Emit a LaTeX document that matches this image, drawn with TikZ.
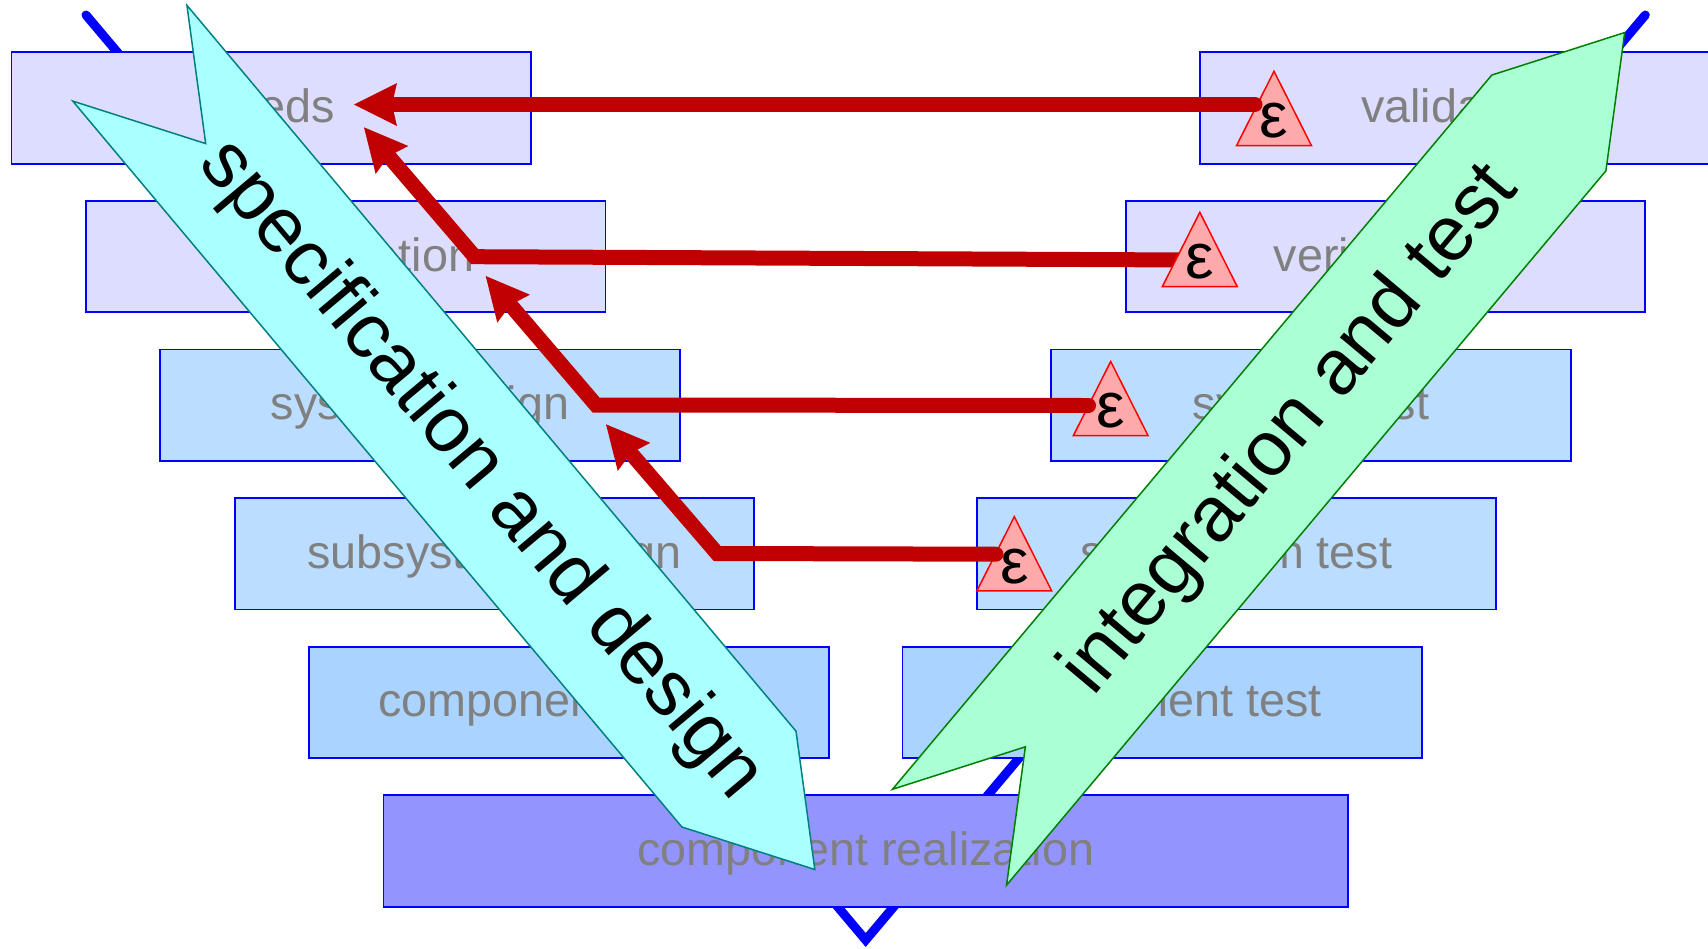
\documentclass[tikz,border=0pt]{standalone}
\usepackage{fontspec}
\setmainfont{Liberation Sans}
\usetikzlibrary{arrows.meta}
\definecolor{boxA}{HTML}{DDDDFF}
\definecolor{boxB}{HTML}{BBDDFF}
\definecolor{boxC}{HTML}{AAD4FF}
\definecolor{boxD}{HTML}{9494FF}
\definecolor{txtgray}{HTML}{808080}
\definecolor{specfill}{HTML}{AAFFFF}
\definecolor{specdraw}{HTML}{008080}
\definecolor{intfill}{HTML}{AAFFD4}
\definecolor{intdraw}{HTML}{008000}
\definecolor{redline}{HTML}{C00000}
\definecolor{trifill}{HTML}{FFAAAA}
\definecolor{tridraw}{HTML}{FF0000}
\begin{document}
\begin{tikzpicture}[x=1pt,y=-1pt,
  phase/.style={draw=blue, line width=1.8pt, inner sep=0pt,
    minimum width=519.5pt, minimum height=111.4pt,
    text height=34pt, text depth=5pt, text=txtgray,
    font=\fontsize{46.7}{56}\selectfont},
  vline/.style={draw=blue, line width=9pt, line cap=round, line join=miter},
  specarrow/.style={fill=specfill, draw=specdraw, line width=1.5pt, line join=miter},
  intarrow/.style={fill=intfill, draw=intdraw, line width=1.5pt, line join=miter},
  bigtxt/.style={inner sep=0pt, text=black, font=\fontsize{78}{88}\selectfont},
  redarrow/.style={draw=redline, line width=15pt, line cap=round, line join=miter,
    -{Stealth[length=43pt, width=43pt, inset=5pt, line width=0pt]}},
  tri/.style={fill=trifill, draw=tridraw, line width=1.5pt, line join=miter},
  eps/.style={inner sep=0pt, text=black, font=\fontsize{64}{70}\selectfont}
]
\useasboundingbox (0,0) rectangle (1708,948);

% V line
\coordinate (vl) at (86,15);
\coordinate (vb) at (865.7,940);
\coordinate (vr) at (1645.3,15);
\draw[vline] (vl) -- (vb) -- (vr);

% left column
\node[phase, fill=boxA] (l1) at (271.25,108) {needs};
\node[phase, fill=boxA] (l2) at (345.65,256.6) {specification};
\node[phase, fill=boxB] (l3) at (420.05,405.2) {system design};
\node[phase, fill=boxB] (l4) at (494.45,553.8) {subsystem design};
\node[phase, fill=boxC] (l5) at (568.85,702.4) {component design};
% right column
\node[phase, fill=boxA] (r1) at (1459.75,108) {validation};
\node[phase, fill=boxA] (r2) at (1385.35,256.6) {verification};
\node[phase, fill=boxB] (r3) at (1310.95,405.2) {system test};
\node[phase, fill=boxB] (r4) at (1236.55,553.8) {subsystem test};
\node[phase, fill=boxC] (r5) at (1162.15,702.4) {component test};
% bottom
\node[phase, fill=boxD, minimum width=964.6pt] (bt) at (865.7,851) {component realization};

% specification and design arrow
\begin{scope}[shift={(129.85,53.2)}, rotate=-50]
  \draw[specarrow] (0,74.5) -- (118,0) -- (0,-74.5) -- (947.6,-74.5) -- (1065.6,0) -- (947.6,74.5) -- cycle;
  \node[bigtxt, rotate=-50] (spec) at (545,0) {specification and design};
\end{scope}

% integration and test arrow
\begin{scope}[shift={(949.5,837.2)}, rotate=50]
  \draw[intarrow] (0,74.5) -- (118,0) -- (0,-74.5) -- (932.4,-74.5) -- (1050.4,0) -- (932.4,74.5) -- cycle;
  \node[bigtxt, rotate=50] (integ) at (531,0) {integration and test};
\end{scope}

% red arrow coordinates
\coordinate (s1) at (1255,104.5);
\coordinate (t1) at (354,104.5);
\coordinate (s2) at (1190,260);
\coordinate (b2) at (474.7,256.7);
\coordinate (t2) at (364,127.3);
\coordinate (s3) at (1088.5,405.5);
\coordinate (b3) at (596,405);
\coordinate (t3) at (485.7,276);
\coordinate (s4) at (996,554.2);
\coordinate (b4) at (717.2,553.5);
\coordinate (t4) at (606,424.3);

\draw[redarrow] (s2) -- (b2) -- (t2);

% epsilon triangles
\draw[tri] (1274,71.3) -- ++(37.4,74.2) -- ++(-74.8,0) -- cycle;
\node[eps] (e1) at (1274,120.8) {ε};
\draw[tri] (1199.8,212.3) -- ++(37.4,74.2) -- ++(-74.8,0) -- cycle;
\node[eps] (e2) at (1199.8,261.8) {ε};
\draw[tri] (1110.7,361.5) -- ++(37.4,74.2) -- ++(-74.8,0) -- cycle;
\node[eps] (e3) at (1110.7,411) {ε};
\draw[tri] (1014.3,516.7) -- ++(37.4,74.2) -- ++(-74.8,0) -- cycle;
\node[eps] (e4) at (1014.3,566.2) {ε};

\draw[redarrow] (s1) -- (t1);
\draw[redarrow] (s3) -- (b3) -- (t3);
\draw[redarrow] (s4) -- (b4) -- (t4);
\end{tikzpicture}
\end{document}
